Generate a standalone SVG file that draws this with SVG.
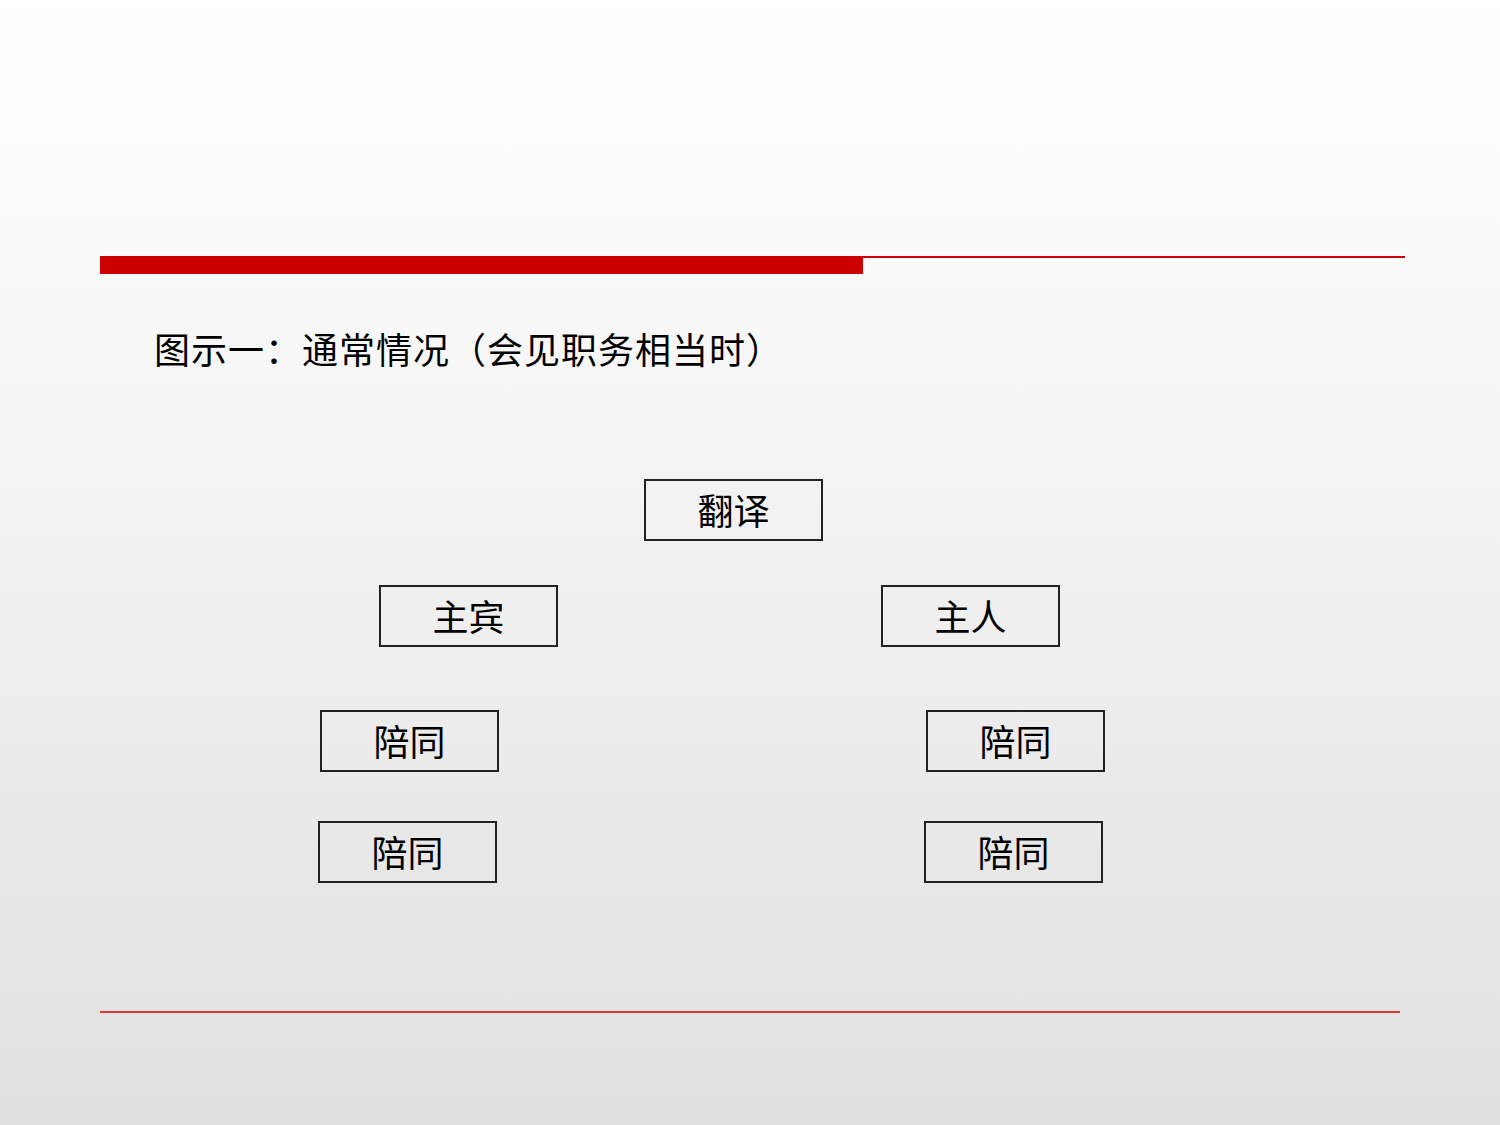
<svg xmlns="http://www.w3.org/2000/svg" width="1500" height="1125" viewBox="0 0 1500 1125">
<defs>
<linearGradient id="bg" x1="0" y1="0" x2="0" y2="1">
<stop offset="0" stop-color="#ffffff"/>
<stop offset="0.25" stop-color="#f9f9f9"/>
<stop offset="1" stop-color="#e0e0e0"/>
</linearGradient>
<style>
.box{fill:none;stroke:#222;stroke-width:2}
.lbl{font-family:"Noto Sans CJK SC","Noto Sans",sans-serif;font-size:36px;fill:#000;text-anchor:middle}
.title{font-family:"Noto Sans CJK SC","Noto Sans",sans-serif;font-size:36px;fill:#000}
</style>
</defs>
<rect x="0" y="0" width="1500" height="1125" fill="url(#bg)"/>
<g id="decor">
<rect x="100" y="256" width="763" height="18" fill="#cc0000"/>
<line x1="863" y1="257" x2="1405" y2="257" stroke="#cc0000" stroke-width="2"/>
<line x1="100" y1="1012" x2="1400" y2="1012" stroke="#dd0000" stroke-width="1.5"/>
</g>
<text id="title" class="title" x="154 191 228 265 302 339 376 413 450 487 524 561 598 635 672 709 746" y="364">图示一：通常情况（会见职务相当时）</text>
<g id="connectors"></g>
<g id="n-fanyi"><rect class="box" x="645" y="480" width="177" height="60"/><text class="lbl" x="733.5" y="525">翻译</text></g>
<g id="n-zhubin"><rect class="box" x="380" y="586" width="177" height="60"/><text class="lbl" x="468.5" y="631">主宾</text></g>
<g id="n-zhuren"><rect class="box" x="882" y="586" width="177" height="60"/><text class="lbl" x="970.5" y="631">主人</text></g>
<g id="n-peitong-l1"><rect class="box" x="321" y="711" width="177" height="60"/><text class="lbl" x="409.5" y="756">陪同</text></g>
<g id="n-peitong-l2"><rect class="box" x="319" y="822" width="177" height="60"/><text class="lbl" x="407.5" y="867">陪同</text></g>
<g id="n-peitong-r1"><rect class="box" x="927" y="711" width="177" height="60"/><text class="lbl" x="1015.5" y="756">陪同</text></g>
<g id="n-peitong-r2"><rect class="box" x="925" y="822" width="177" height="60"/><text class="lbl" x="1013.5" y="867">陪同</text></g>
</svg>
